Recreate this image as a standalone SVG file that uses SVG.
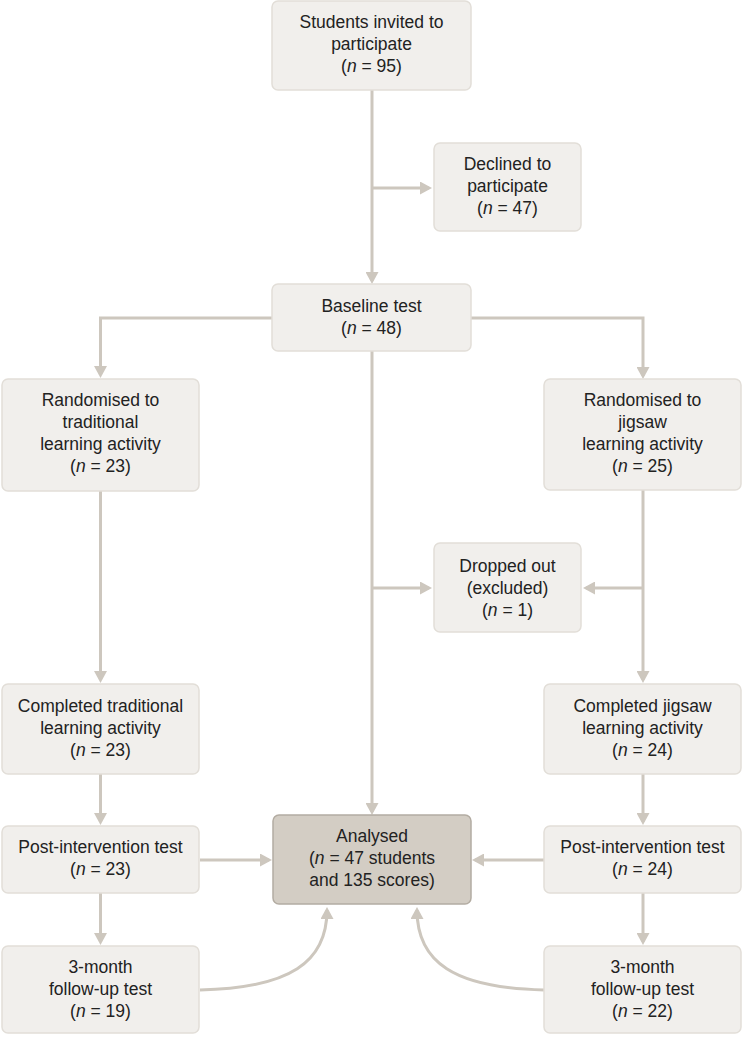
<svg xmlns="http://www.w3.org/2000/svg" width="744" height="1037" viewBox="0 0 744 1037">
<style>
.box{fill:#f1efec;stroke:#e2ded8;stroke-width:1.5}
.main{fill:#d3cdc4;stroke:#b3aca2;stroke-width:1.5}
.t{font-family:"Liberation Sans",Arial,sans-serif;font-size:17.5px;fill:#222;text-anchor:middle}
.c{fill:none;stroke:#cdc7be;stroke-width:3}
</style>
<defs>
<marker id="ah" markerUnits="userSpaceOnUse" markerWidth="12" markerHeight="13" refX="9" refY="6.5" orient="auto" viewBox="0 0 12 13">
<path d="M0,0 L12,6.5 L0,13 z" fill="#cdc7be"/>
</marker>
</defs>
<rect width="744" height="1037" fill="#ffffff"/>
<g id="connectors">
<path class="c" d="M372,90 V281" marker-end="url(#ah)"/>
<path class="c" d="M372,188 H429" marker-end="url(#ah)"/>
<path class="c" d="M272,318 H100.5 V375" marker-end="url(#ah)"/>
<path class="c" d="M471,318 H643 V376" marker-end="url(#ah)"/>
<path class="c" d="M372,351 V812" marker-end="url(#ah)"/>
<path class="c" d="M372,588 H429" marker-end="url(#ah)"/>
<path class="c" d="M643,490 V680" marker-end="url(#ah)"/>
<path class="c" d="M643,588 H586" marker-end="url(#ah)"/>
<path class="c" d="M100.5,491 V680" marker-end="url(#ah)"/>
<path class="c" d="M100.5,774 V822" marker-end="url(#ah)"/>
<path class="c" d="M100.5,893 V942" marker-end="url(#ah)"/>
<path class="c" d="M200,860 H269" marker-end="url(#ah)"/>
<path class="c" d="M643,774 V822" marker-end="url(#ah)"/>
<path class="c" d="M643,893 V942" marker-end="url(#ah)"/>
<path class="c" d="M544,860 H475" marker-end="url(#ah)"/>
<path class="c" d="M200,990 C290,988 327,962 327,910" marker-end="url(#ah)"/>
<path class="c" d="M544,990 C454,988 417,962 417,910" marker-end="url(#ah)"/>
</g>
<g id="invited">
<rect class="box" x="272" y="1" width="199" height="89" rx="6"/>
<text class="t" x="371.5" y="28">Students invited to</text>
<text class="t" x="371.5" y="50">participate</text>
<text class="t" x="371.5" y="72">(<tspan font-style="italic">n</tspan> = 95)</text>
</g>
<g id="declined">
<rect class="box" x="434" y="143" width="147" height="88" rx="6"/>
<text class="t" x="507.5" y="170">Declined to</text>
<text class="t" x="507.5" y="192">participate</text>
<text class="t" x="507.5" y="214">(<tspan font-style="italic">n</tspan> = 47)</text>
</g>
<g id="baseline">
<rect class="box" x="272" y="284" width="199" height="67" rx="6"/>
<text class="t" x="371.5" y="312">Baseline test</text>
<text class="t" x="371.5" y="334">(<tspan font-style="italic">n</tspan> = 48)</text>
</g>
<g id="rand-trad">
<rect class="box" x="2" y="379" width="197" height="112" rx="6"/>
<text class="t" x="100.5" y="406">Randomised to</text>
<text class="t" x="100.5" y="428">traditional</text>
<text class="t" x="100.5" y="450">learning activity</text>
<text class="t" x="100.5" y="472">(<tspan font-style="italic">n</tspan> = 23)</text>
</g>
<g id="rand-jig">
<rect class="box" x="544" y="379" width="197" height="111" rx="6"/>
<text class="t" x="642.5" y="406">Randomised to</text>
<text class="t" x="642.5" y="428">jigsaw</text>
<text class="t" x="642.5" y="450">learning activity</text>
<text class="t" x="642.5" y="472">(<tspan font-style="italic">n</tspan> = 25)</text>
</g>
<g id="dropped">
<rect class="box" x="434" y="543" width="147" height="89" rx="6"/>
<text class="t" x="507.5" y="572">Dropped out</text>
<text class="t" x="507.5" y="594">(excluded)</text>
<text class="t" x="507.5" y="616">(<tspan font-style="italic">n</tspan> = 1)</text>
</g>
<g id="comp-trad">
<rect class="box" x="2" y="684" width="197" height="90" rx="6"/>
<text class="t" x="100.5" y="712">Completed traditional</text>
<text class="t" x="100.5" y="734">learning activity</text>
<text class="t" x="100.5" y="756">(<tspan font-style="italic">n</tspan> = 23)</text>
</g>
<g id="comp-jig">
<rect class="box" x="544" y="684" width="197" height="90" rx="6"/>
<text class="t" x="642.5" y="712">Completed jigsaw</text>
<text class="t" x="642.5" y="734">learning activity</text>
<text class="t" x="642.5" y="756">(<tspan font-style="italic">n</tspan> = 24)</text>
</g>
<g id="post-trad">
<rect class="box" x="2" y="826" width="197" height="67" rx="6"/>
<text class="t" x="100.5" y="853">Post-intervention test</text>
<text class="t" x="100.5" y="875">(<tspan font-style="italic">n</tspan> = 23)</text>
</g>
<g id="post-jig">
<rect class="box" x="544" y="826" width="197" height="67" rx="6"/>
<text class="t" x="642.5" y="853">Post-intervention test</text>
<text class="t" x="642.5" y="875">(<tspan font-style="italic">n</tspan> = 24)</text>
</g>
<g id="analysed">
<rect class="main" x="273" y="815" width="198" height="89" rx="6"/>
<text class="t" x="372" y="842">Analysed</text>
<text class="t" x="372" y="864">(<tspan font-style="italic">n</tspan> = 47 students</text>
<text class="t" x="372" y="886">and 135 scores)</text>
</g>
<g id="fu-trad">
<rect class="box" x="2" y="946" width="197" height="87" rx="6"/>
<text class="t" x="100.5" y="973">3-month</text>
<text class="t" x="100.5" y="995">follow-up test</text>
<text class="t" x="100.5" y="1017">(<tspan font-style="italic">n</tspan> = 19)</text>
</g>
<g id="fu-jig">
<rect class="box" x="544" y="946" width="197" height="87" rx="6"/>
<text class="t" x="642.5" y="973">3-month</text>
<text class="t" x="642.5" y="995">follow-up test</text>
<text class="t" x="642.5" y="1017">(<tspan font-style="italic">n</tspan> = 22)</text>
</g>
</svg>
